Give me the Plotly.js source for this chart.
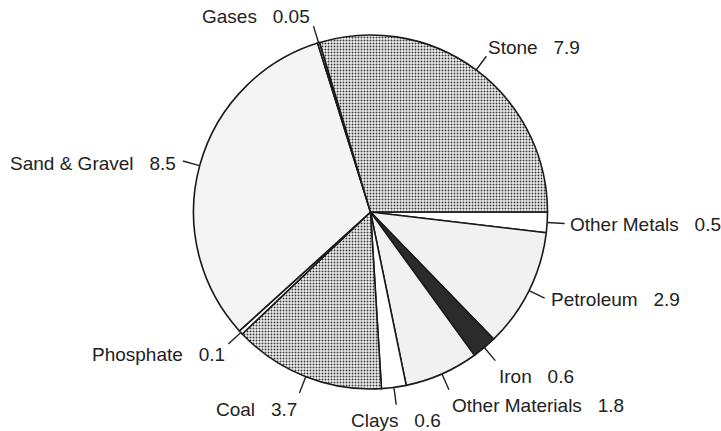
<!DOCTYPE html>
<html><head><meta charset="utf-8">
<script src="https://cdn.plot.ly/plotly-3.0.1.min.js"></script>
<style>html,body{margin:0;padding:0;background:#fff}</style>
</head><body><div id="chart" style="width:721px;height:431px"></div>
<script>
// data (clockwise from 3 o'clock)
const labels = ['Other Metals','Petroleum','Iron','Other Materials','Clays','Coal','Phosphate','Sand & Gravel','Gases','Stone'];
const values = [0.5, 2.9, 0.6, 1.8, 0.6, 3.7, 0.1, 8.5, 0.05, 7.9];
const valueText = ['0.5','2.9','0.6','1.8','0.6','3.7','0.1','8.5','0.05','7.9'];

// styles
const fills = ['#ffffff','#f1f1f1','#2b2b2b','#f1f1f1','#ffffff','#f3f3f3','#ffffff','#f4f4f4','#ffffff','#f3f3f3'];
const shapes = ['','','','','','.','','','','.'];
const xanch = ['left','left','left','left','center','right','right','right','right','left'];
const xsh = [2,3,0,0,0,0,0,-3,-1,-1];
const ysh = [-0.5,-1,-14,-14.5,-14.7,-15,-9.6,-2.4,8,7.6];

const W = 721, H = 431, cx = 370.5, cy = 212, R = 177, ROT = 90;
const total = values.reduce((a,b)=>a+b,0);

const trace = {
  type:'pie', labels, values, sort:false, direction:'clockwise', rotation:ROT,
  textinfo:'none', hoverinfo:'label+value', showlegend:false,
  domain:{x:[(cx-R)/W,(cx+R)/W], y:[(H-cy-R)/H,(H-cy+R)/H]},
  marker:{colors:fills, line:{color:'#1a1a1a', width:1.6},
    pattern:{shape:shapes, fgcolor:'#3a3a3a', bgcolor:fills, size:3, solidity:0.35}}
};

const anns = [];
let cum = 0;
values.forEach((v,i)=>{
  const th = (ROT + (cum + v/2)/total*360) * Math.PI/180;
  cum += v;
  const s = Math.sin(th), c = Math.cos(th);
  const r0 = R, L = 19;
  anns.push({xref:'paper', yref:'paper', x:(cx + r0*s)/W, y:1 - (cy - r0*c)/H,
    ax: L*s, ay: -L*c, text:'', showarrow:true, arrowhead:0, arrowwidth:1.4,
    arrowcolor:'#222', standoff:0, startstandoff:0});
  const r1 = r0 + L;
  anns.push({xref:'paper', yref:'paper', x:(cx + r1*s)/W, y:1 - (cy - r1*c)/H,
    text: labels[i] + '\u00a0\u00a0\u00a0' + valueText[i], showarrow:false,
    xanchor:xanch[i], yanchor:'middle', xshift:xsh[i], yshift:ysh[i],
    font:{family:'Liberation Sans, Arial, sans-serif', size:19, color:'#222'}});
});

Plotly.newPlot('chart', [trace], {
  width:W, height:H, margin:{l:0,r:0,t:0,b:0},
  paper_bgcolor:'#ffffff', plot_bgcolor:'#ffffff', annotations:anns
}, {displayModeBar:false, staticPlot:true});
</script></body></html>
